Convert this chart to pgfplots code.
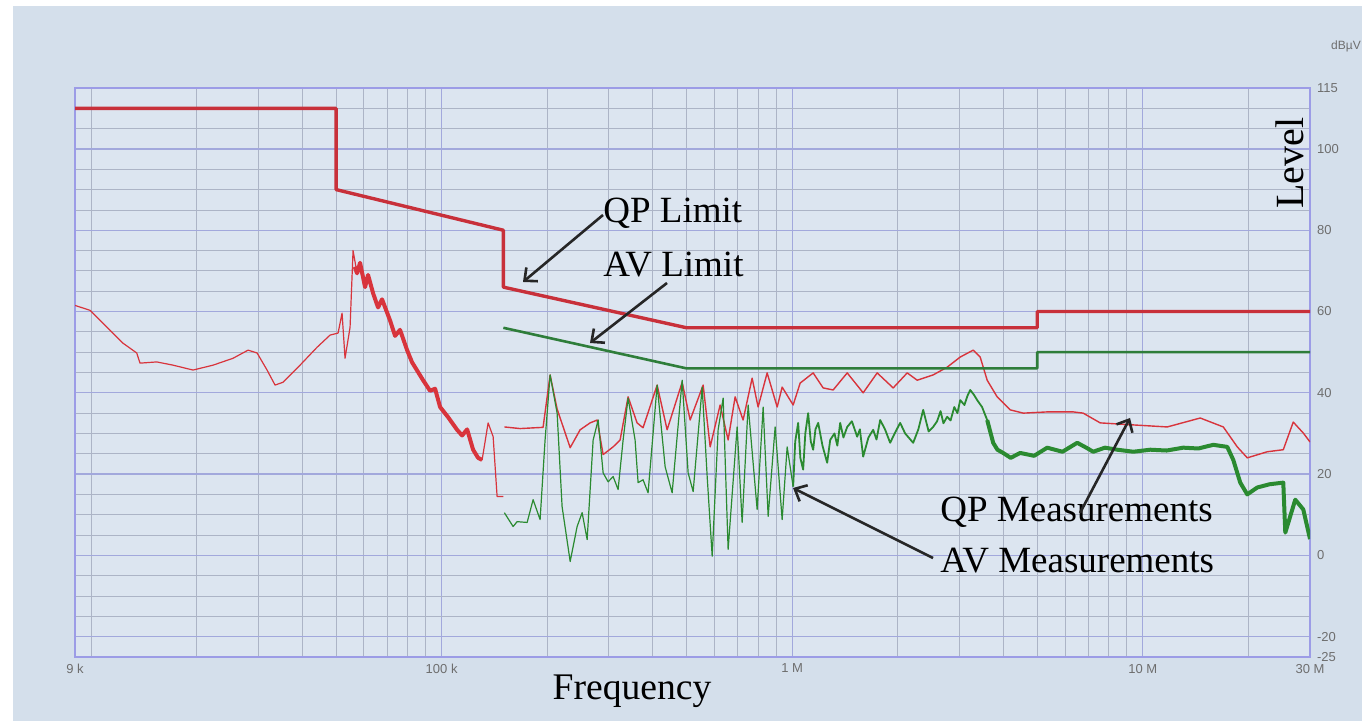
\documentclass[border=0pt]{standalone}
\usepackage{fontspec}
\setmainfont{Liberation Serif}
\newfontfamily\ticksans{Liberation Sans}
\usepackage{pgfplots}
\pgfplotsset{compat=1.18}
\usetikzlibrary{arrows.meta}
\definecolor{outerbg}{HTML}{D4DFEB}
\definecolor{plotbg}{HTML}{DCE5F0}
\definecolor{majgrid}{HTML}{A2A8DC}
\definecolor{mingrid}{HTML}{ACB4C6}
\definecolor{axisborder}{HTML}{9C9CE6}
\definecolor{tickgray}{HTML}{6E6E6E}
\definecolor{qplim}{HTML}{C8303A}
\definecolor{avlim}{HTML}{2E7D3A}
\definecolor{qpmeas}{HTML}{D8343C}
\definecolor{avmeas}{HTML}{2A8A30}
\begin{document}
\begin{tikzpicture}
\useasboundingbox (0,0) rectangle (681pt,360.5pt);
\fill[white] (0,0) rectangle (681pt,360.5pt);
\fill[outerbg] (6.5pt,0) rectangle (681pt,357.5pt);
\begin{axis}[
  at={(37.5pt,32pt)}, anchor=south west,
  width=617.5pt, height=284.5pt, scale only axis,
  xmode=log, xmin=9000, xmax=30000000,
  ymin=-25, ymax=115,
  axis background/.style={fill=plotbg},
  axis line style={draw=axisborder, line width=1pt},
  xtick={9000,100000,1000000,10000000,30000000},
  xticklabels={9 k,100 k,1 M,10 M,30 M},
  minor xtick={10000,20000,30000,40000,50000,60000,70000,80000,90000,200000,300000,400000,500000,600000,700000,800000,900000,2000000,3000000,4000000,5000000,6000000,7000000,8000000,9000000,20000000},
  ytick={-20,0,20,40,60,80,100},
  extra y ticks={-25,115}, extra y tick style={grid=none},
  minor ytick={-25,-20,...,115},
  grid=both,
  major grid style={draw=majgrid, line width=0.6pt},
  minor grid style={draw=mingrid, line width=0.4pt},
  major tick length=0pt, minor tick length=0pt,
  yticklabel pos=right,
  tick label style={font=\ticksans\fontsize{6.5}{7}\selectfont, text=tickgray},
  /pgf/number format/assume math mode=true,
  every axis plot/.append style={no marks, line join=round},
]
% QP measurement, 9 kHz - 150 kHz
\addplot[qpmeas, line width=0.6pt] coordinates {
(9000,61.5) (9930,60.3) (11083,56.2) (12338,52.2) (13497,49.8) (13796,47.3)
(15396,47.6) (17140,46.8) (19539,45.6) (22281,46.8) (25412,48.5) (28047,50.5)
(29759,49.8) (31772,45.6) (33485,41.9) (35291,42.6) (39458,46.8) (44121,51.2)
(48056,54.2) (50657,54.7) (51999,59.6) (53027,48.5) (54803,56.1) (55896,75)
(57384,69.4) (58527,72) (60485,66) (61681,69) (63758,64.5) (65867,61) (67621,63)
(71277,57.8) (73661,54) (76109,55.5) (79727,50.5) (82349,47.5) (88538,43.1)
(92691,40.5) (95796,41) (99000,36.5) (104346,34) (110673,30.9) (114417,29.5)
(118242,31) (122958,26) (127053,24) (130473,23.5) (135720,32.6) (140265,29.2)
(143964,14.5) (150000,14.5)
};
\addplot[qpmeas, line width=2pt] coordinates {
(56500,71) (57384,69.4) (58527,72) (60485,66) (61681,69) (63758,64.5) (65867,61) (67621,63)
(71277,57.8) (73661,54) (76109,55.5) (79727,50.5) (82349,47.5) (88538,43.1)
(92691,40.5) (95796,41) (99000,36.5) (104346,34) (110673,30.9) (114417,29.5)
(118242,31) (122958,26) (127053,24) (130473,23.5)
};
% QP measurement, 150 kHz - 30 MHz
\addplot[qpmeas, line width=0.7pt] coordinates {
(151000,31.6) (167454,31.2) (184779,31.4) (194733,31.5) (203913,44.4) (213525,36)
(232632,26.5) (248355,30.9) (265212,32.6) (277713,33.3) (288864,24.8) (308493,26.7)
(322947,28.4) (340335,39) (361044,32.6) (375525,31.4) (411876,41.9) (439785,30.9)
(485379,42.6) (511542,33.3) (557181,41.9) (583434,26.7) (622935,37) (656505,28.4)
(687456,39) (724464,33.3) (768681,43.6) (799542,36.5) (848286,44.9) (906030,36.5)
(936090,41.4) (1006290,37) (1053720,42.4) (1147680,44.9) (1225620,41.2) (1308780,40.7)
(1435140,44.9) (1593810,40) (1747440,44.9) (1941120,41.2) (2128410,44.9) (2273040,43.1)
(2523780,44.4) (2767140,46.3) (3014730,48.8) (3284280,50.5) (3437460,48.8) (3599460,43.1)
(3843540,39) (4186800,35.8) (4560120,35) (5338440,35.3) (6334110,35.3) (6762240,35)
(7563060,32.6) (9391500,32.1) (11744100,31.6) (14585400,33.8) (16971300,31.6)
(18603000,26.7) (19865700,24) (22659300,25.5) (25167600,26) (26868600,32.8)
(28701000,30.1) (30000000,27.9)
};
% AV measurement, 150 kHz - 1 MHz
\addplot[avmeas, line width=0.6pt] coordinates {
(151000,10.5) (159930,7.1) (164196,8.3) (175356,8.1) (182376,13.7) (190962,8.8)
(197316,28.4) (203913,44.4) (213525,35) (220617,12) (232632,-1.5) (243504,7.1)
(251649,10.5) (260064,3.9) (270522,28.4) (279567,33.3) (288864,20.3) (298521,18.1)
(308493,19.4) (318735,16.2) (329400,28.4) (340335,38.7) (356337,28.4) (363474,17.9)
(375525,18.6) (388107,15.4) (411876,41.9) (434079,21.8) (454527,15.4) (485379,43.1)
(504873,20.3) (521775,15.7) (553590,41.4) (572130,19.4) (591264,-0.2) (614817,30.9)
(635400,38.7) (656505,1.5) (696546,31.6) (719847,8.1) (748764,37) (794394,11.3)
(826335,36.5) (853965,9.6) (893970,31.6) (936090,8.8) (967500,26.7) (1006290,16.9)
};
% AV measurement, 1 MHz - 3.6 MHz
\addplot[avmeas, line width=0.9pt] coordinates {
(1006290,16.9) (1020000,28) (1039950,32.6) (1055000,24) (1074600,21.1) (1090000,30)
(1110510,35) (1130000,28) (1147680,26) (1165000,31) (1186110,32.6) (1220000,27)
(1258290,22.8) (1283490,28.4) (1320000,30) (1345000,27) (1370430,32.6) (1400000,29)
(1435140,31.6) (1480000,33) (1532340,29.2) (1560000,31) (1593810,24.3) (1650000,29)
(1702170,30.9) (1740000,28.5) (1782450,33.3) (1840000,31) (1903320,27.7) (1960000,30)
(2032470,32.6) (2100000,30) (2213550,27.7) (2290000,31) (2364120,35.8) (2450000,30.5)
(2523780,31.6) (2590000,33) (2650000,35.5) (2700000,32.5) (2767140,34.1) (2830000,33.2)
(2900000,36.5) (2960000,35) (3014730,38.2) (3100000,37) (3160000,39.2) (3219390,40.7)
(3300000,39.5) (3371040,38.2) (3480000,36.5) (3599460,33.3)
};
% AV measurement, 3.6 MHz - 30 MHz
\addplot[avmeas, line width=2pt] coordinates {
(3599460,33.3) (3743910,27.7)
(3850000,26) (3997350,25.2) (4200000,24) (4470120,25.2) (4900000,24.5) (5338440,26.5)
(5900000,25.5) (6502500,27.7) (6900000,26.5) (7222500,25.5) (7800000,26.5) (8455500,26)
(9400000,25.5) (10501200,26) (11700000,25.8) (13044600,26.5) (14400000,26.3)
(15889500,27.2) (17417700,26.7) (18121500,23.5) (18971100,17.9) (19865700,15)
(21211200,16.7) (23000000,17.5) (25167600,17.9) (25500600,5.6) (27225000,13.7)
(28701000,11.3) (30000000,4)
};
% QP limit
\addplot[qplim, line width=1.7pt] coordinates {
(9000,110) (50000,110) (50000,90) (150000,80) (150000,66) (500000,56)
(5000000,56) (5000000,60) (30000000,60)
};
% AV limit
\addplot[avlim, line width=1.3pt] coordinates {
(150000,56) (500000,46) (5000000,46) (5000000,50) (30000000,50)
};
\end{axis}
% texts
\node[font=\ticksans\fontsize{6}{7}\selectfont, text=tickgray] at (673pt,337.5pt) {dBµV};
\node[font=\fontsize{20}{24}\selectfont, rotate=90] at (645pt,279pt) {Level};
\node[font=\fontsize{18.8}{22}\selectfont, anchor=base] at (316pt,10.5pt) {Frequency};
\node[font=\fontsize{18.5}{22}\selectfont, anchor=base west, inner sep=0pt] at (301.5pt,249pt) {QP Limit};
\node[font=\fontsize{18.5}{22}\selectfont, anchor=base west, inner sep=0pt] at (301.5pt,222pt) {AV Limit};
\node[font=\fontsize{18.5}{22}\selectfont, anchor=base west, inner sep=0pt] at (470pt,99.5pt) {QP Measurements};
\node[font=\fontsize{18.5}{22}\selectfont, anchor=base west, inner sep=0pt] at (470pt,74pt) {AV Measurements};
% arrows
\begin{scope}[line width=1.3pt, draw=black!85, -{Straight Barb[length=5pt,width=9pt]}]
\draw (301.5pt,253pt) -- (261.5pt,219.5pt);
\draw (333.5pt,219pt) -- (295pt,189pt);
\draw (540pt,104pt) -- (565pt,151.5pt);
\draw (466.5pt,81.5pt) -- (396.5pt,116.5pt);
\end{scope}
\end{tikzpicture}
\end{document}
